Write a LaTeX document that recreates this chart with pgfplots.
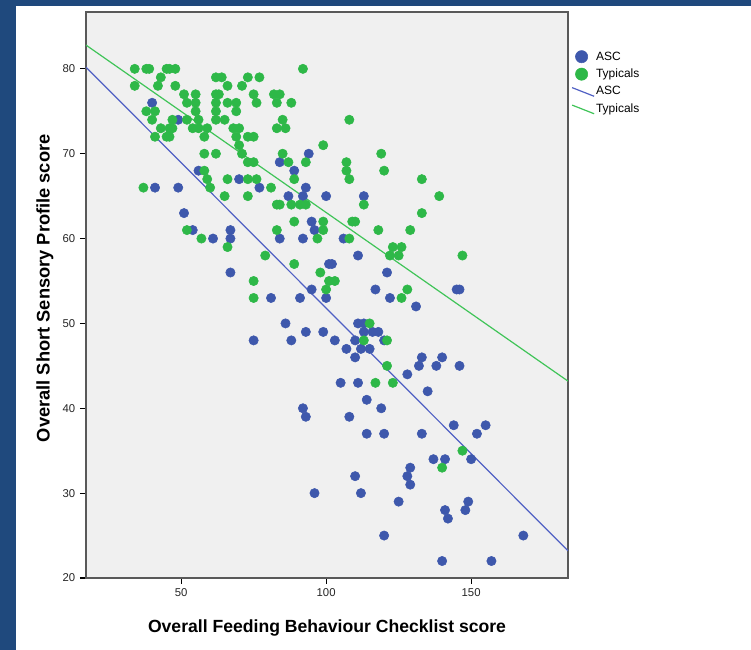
\documentclass[border=0pt]{standalone}
\usepackage{fontspec}
\setmainfont{Liberation Sans}
\usepackage{pgfplots}
\usepackage{pgfplotstable}
\pgfplotsset{compat=1.18}
\definecolor{slide}{RGB}{31,73,125}
\definecolor{ascc}{RGB}{62,88,172}
\definecolor{typc}{RGB}{46,184,72}
\definecolor{ascl}{RGB}{80,96,196}
\definecolor{typl}{RGB}{64,196,88}
\definecolor{plotbg}{RGB}{240,240,240}
\pgfplotstableread{
x y
40 76
49 74
94 70
84 69
56 68
89 68
70 67
41 66
49 66
77 66
93 66
87 65
92 65
100 65
113 65
51 63
95 62
54 61
67 61
96 61
61 60
67 60
84 60
92 60
106 60
111 58
101 57
102 57
67 56
121 56
95 54
117 54
145 54
146 54
81 53
91 53
100 53
122 53
131 52
86 50
111 50
113 50
93 49
99 49
113 49
116 49
118 49
75 48
88 48
103 48
110 48
120 48
107 47
112 47
115 47
110 46
133 46
140 46
132 45
138 45
146 45
128 44
105 43
111 43
135 42
114 41
92 40
119 40
93 39
108 39
144 38
155 38
114 37
120 37
133 37
152 37
137 34
141 34
150 34
129 33
110 32
128 32
129 31
96 30
112 30
125 29
149 29
141 28
148 28
142 27
120 25
168 25
140 22
157 22
}\asc
\pgfplotstableread{
x y
34 80
38 80
39 80
45 80
46 80
48 80
92 80
43 79
62 79
64 79
73 79
77 79
34 78
42 78
48 78
66 78
71 78
51 77
55 77
62 77
63 77
75 77
82 77
84 77
52 76
55 76
62 76
66 76
69 76
76 76
83 76
88 76
38 75
41 75
55 75
62 75
69 75
40 74
47 74
52 74
56 74
62 74
65 74
85 74
108 74
43 73
46 73
47 73
54 73
56 73
59 73
68 73
70 73
83 73
86 73
41 72
45 72
46 72
58 72
69 72
73 72
75 72
70 71
99 71
58 70
62 70
71 70
85 70
119 70
73 69
75 69
87 69
93 69
107 69
58 68
107 68
120 68
59 67
66 67
73 67
76 67
89 67
108 67
133 67
37 66
60 66
81 66
65 65
73 65
139 65
83 64
84 64
88 64
91 64
93 64
113 64
133 63
89 62
99 62
109 62
110 62
52 61
83 61
99 61
118 61
129 61
57 60
97 60
108 60
66 59
123 59
126 59
79 58
122 58
125 58
147 58
89 57
98 56
75 55
101 55
103 55
100 54
128 54
75 53
126 53
115 50
113 48
121 48
121 45
117 43
123 43
147 35
140 33
}\typ
\begin{document}
\begin{tikzpicture}
\fill[slide] (0,0) rectangle (563.25pt,487.5pt);
\fill[white] (12pt,0) rectangle (563.25pt,483pt);
\begin{axis}[
  at={(64.5pt,54pt)}, anchor=south west,
  scale only axis, width=361.5pt, height=424.5pt,
  xmin=17.2, xmax=183.4, ymin=20, ymax=86.7,
  xtick={50,100,150}, ytick={20,30,40,50,60,70,80},
  axis background/.style={fill=plotbg},
  axis line style={draw=black!65, line width=0.9pt},
  tick style={draw=black, line width=0.8pt},
  tick align=outside, major tick length=4.5pt,
  xtick pos=bottom, ytick pos=left,
  tick label style={font=\fontsize{8.5}{10}\selectfont, text=black!85},
  /pgf/number format/assume math mode=true,
  xlabel={Overall Feeding Behaviour Checklist score},
  ylabel={Overall Short Sensory Profile score},
  xlabel style={font=\fontsize{13.2}{15}\selectfont\bfseries, at={(axis description cs:0.5,-0.0883)}, anchor=center},
  ylabel style={font=\fontsize{13.7}{15}\selectfont\bfseries, at={(axis description cs:-0.085,0.512)}, anchor=center},
  legend style={at={(axis description cs:1.004,0.938)}, anchor=north west, draw=none, fill=none,
    font=\fontsize{9}{10}\selectfont, row sep=1.1pt, inner sep=1pt,
    nodes={inner sep=1pt, text height=7.5pt, text depth=2.5pt}},
  legend cell align=left,
  clip=true,
]
\addplot[only marks, mark=*, mark size=3.5pt, mark options={fill=ascc, draw=ascc},
  legend image code/.code={\fill[ascc] (0.25cm,0pt) circle (4.6pt);}] table {\asc};
\addlegendentry{ASC}
\addplot[only marks, mark=*, mark size=3.5pt, mark options={fill=typc, draw=typc},
  legend image code/.code={\fill[typc] (0.25cm,0pt) circle (4.6pt);}] table {\typ};
\addlegendentry{Typicals}
\addplot[ascl, line width=0.9pt,
  legend image code/.code={\draw[ascl, line width=0.9pt] (0pt,3pt) -- (16.5pt,-3.5pt);}]
  coordinates {(17.2,80.2) (183.4,23.2)};
\addlegendentry{ASC}
\addplot[typl, line width=0.9pt,
  legend image code/.code={\draw[typl, line width=0.9pt] (0pt,3pt) -- (16.5pt,-3.5pt);}]
  coordinates {(17.2,82.8) (183.4,43.2)};
\addlegendentry{Typicals}
\end{axis}
\end{tikzpicture}
\end{document}
